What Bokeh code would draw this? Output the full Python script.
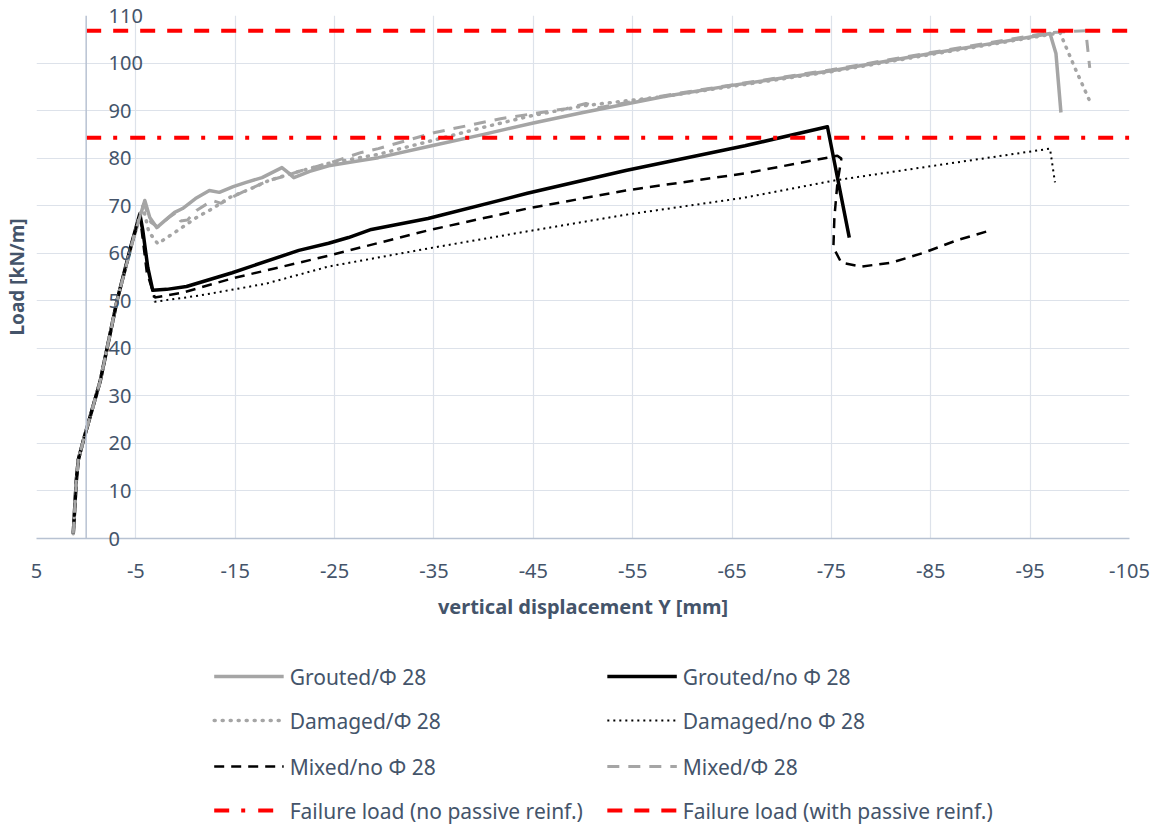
from bokeh.plotting import figure
from bokeh.layouts import column
from bokeh.models import Range1d, FixedTicker, Span, LinearAxis
from bokeh.core.properties import value
from bokeh.embed import file_html
from bokeh.resources import INLINE

# ---------------- data ----------------
x_ticks = [5, -5, -15, -25, -35, -45, -55, -65, -75, -85, -95, -105]
x_tick_labels = ["5", "-5", "-15", "-25", "-35", "-45", "-55", "-65", "-75", "-85", "-95", "-105"]
y_ticks = [0, 10, 20, 30, 40, 50, 60, 70, 80, 90, 100, 110]
y_tick_labels = ["0", "10", "20", "30", "40", "50", "60", "70", "80", "90", "100", "110"]

grouted_phi_x = [1.3, 1.0, 0.8, 0.3, -1.4, -3.1, -4.6, -5.9, -6.4, -7.1, -8.0, -8.9, -9.7, -11.0, -12.4, -13.4,
                 -14.8, -16.1, -17.7, -19.7, -20.3, -20.9, -22.5, -24.4, -27.0, -29.4, -35.0, -40.0, -45.0,
                 -50.0, -58.3, -65.0, -75.0, -85.0, -92.0, -97.0, -97.6, -98.1]
grouted_phi_y = [1.0, 12.0, 16.5, 20.5, 33.0, 50.0, 62.0, 71.1, 67.5, 65.4, 67.0, 68.6, 69.4, 71.5, 73.2, 72.8,
                 74.0, 74.9, 75.9, 78.0, 77.0, 75.9, 77.2, 78.4, 79.3, 80.1, 82.7, 85.0, 87.4,
                 89.6, 93.0, 95.3, 98.4, 102.0, 104.4, 106.2, 102.0, 89.6]

grouted_nophi_x = [1.3, 1.0, 0.8, 0.3, -1.4, -3.1, -4.5, -5.4, -5.7, -6.2, -6.7, -8.1, -10.1, -14.7, -21.4, -24.4,
                   -26.4, -28.7, -34.4, -44.4, -54.3, -66.3, -74.6, -76.8]
grouted_nophi_y = [1.0, 12.0, 16.5, 20.5, 33.0, 50.0, 61.5, 68.3, 64.8, 57.0, 52.2, 52.4, 53.0, 55.9, 60.6, 62.1,
                   63.3, 65.0, 67.3, 72.6, 77.4, 82.6, 86.6, 63.3]

damaged_phi_x = [1.3, 1.0, 0.8, 0.3, -1.4, -3.1, -4.6, -5.7, -6.3, -7.2, -9.0, -11.1, -12.8, -14.4, -16.5, -18.4,
                 -20.7, -24.4, -29.4, -35.0, -40.0, -45.0, -50.0, -58.3, -65.0, -75.0, -85.0, -97.0, -98.0,
                 -99.5, -101.0]
damaged_phi_y = [1.0, 12.0, 16.5, 20.5, 33.0, 50.0, 62.0, 70.0, 64.5, 62.0, 64.5, 67.5, 69.5, 71.7, 73.5, 75.3,
                 76.8, 78.9, 80.8, 83.8, 86.5, 89.0, 91.0, 93.0, 95.1, 98.2, 101.8, 106.0, 106.4,
                 99.0, 92.0]

damaged_nophi_x = [1.3, 1.0, 0.8, 0.3, -1.4, -3.1, -4.5, -5.4, -6.2, -6.9, -11.4, -18.1, -24.4, -34.4, -44.4,
                   -54.3, -66.3, -75.3, -85.3, -97.0, -97.5]
damaged_nophi_y = [1.0, 12.0, 16.5, 20.5, 33.0, 50.0, 61.5, 68.0, 57.0, 49.8, 51.1, 53.6, 57.2, 61.0, 64.6,
                   68.1, 71.7, 75.3, 78.4, 82.0, 74.9]

mixed_nophi_x = [1.3, 1.0, 0.8, 0.3, -1.4, -3.1, -4.5, -5.4, -6.1, -6.9, -9.7, -14.7, -21.4, -24.4, -34.4, -44.4,
                 -54.3, -66.3, -75.6, -76.0, -75.6, -75.3, -75.2, -76.0, -78.0, -81.0, -84.3, -87.6, -91.0]
mixed_nophi_y = [1.0, 12.0, 16.5, 20.5, 33.0, 50.0, 61.5, 68.0, 56.0, 50.7, 51.7, 54.7, 58.0, 59.5, 64.8, 69.4,
                 73.2, 76.8, 80.5, 79.9, 74.7, 67.5, 61.2, 58.0, 57.2, 58.0, 60.1, 62.7, 64.8]

mixed_phi_x = [1.3, 1.0, 0.8, 0.3, -1.4, -3.1, -4.6, -5.8, -6.5, -7.2, -8.3, -9.0, -9.5, -10.2, -11.1, -12.7,
               -13.6, -14.4, -16.1, -18.4, -20.1, -21.7, -24.4, -27.7, -29.4, -35.1, -41.7, -48.3, -50.3, -51.6,
               -58.3, -65.0, -75.0, -85.0, -97.0, -100.6, -101.0]
mixed_phi_y = [1.0, 12.0, 16.5, 20.5, 33.0, 50.0, 62.0, 70.5, 66.5, 65.5, 67.5, 68.5, 66.8, 67.0, 69.0, 71.1,
               70.5, 71.5, 73.2, 75.3, 76.3, 77.4, 78.9, 81.2, 82.0, 85.4, 88.3, 90.4, 91.5, 90.6,
               93.2, 95.4, 98.6, 102.2, 106.4, 106.8, 99.0]

failure_x = [0, -105]
failure_no_passive = 84.3
failure_with_passive = 106.8

legend_labels = ["Grouted/Φ 28", "Grouted/no Φ 28",
                 "Damaged/Φ 28", "Damaged/no Φ 28",
                 "Mixed/no Φ 28", "Mixed/Φ 28",
                 "Failure load (no passive reinf.)", "Failure load (with passive reinf.)"]

TEXT = "#44546a"
GRAY = "#a5a5a5"
RED = "#ff0000"
FONT = "Noto Sans"
W = 1150
FRAME_W = 1101
LEFT = 28
RIGHT = W - LEFT - FRAME_W

styles = [
    dict(line_color=GRAY, line_width=3.5, line_join="round"),
    dict(line_color="black", line_width=3.5, line_join="round"),
    dict(line_color=GRAY, line_width=3.5, line_dash="1 7", line_cap="round"),
    dict(line_color="black", line_width=2, line_dash="2 4"),
    dict(line_color="black", line_width=2.5, line_dash="10 7"),
    dict(line_color=GRAY, line_width=3, line_dash="12 9"),
    dict(line_color=RED, line_width=4, line_dash="15 12 4 13"),
    dict(line_color=RED, line_width=4, line_dash="15 12"),
]

# ---------------- main chart ----------------
p = figure(width=W, height=628,
           x_range=Range1d(5, -105), y_range=Range1d(0, 110),
           output_backend="svg", toolbar_location=None,
           min_border_left=LEFT, min_border_top=15, min_border_right=RIGHT, min_border_bottom=90)
p.outline_line_color = None

p.xaxis.ticker = FixedTicker(ticks=x_ticks)
p.xaxis.major_label_overrides = dict(zip(x_ticks, x_tick_labels))
p.xaxis.major_tick_line_color = None
p.xaxis.minor_tick_line_color = None
p.xaxis.axis_line_color = "#b8c2d2"
p.xaxis.axis_line_width = 1.5
p.xaxis.major_label_text_font = FONT
p.xaxis.major_label_text_font_size = "20px"
p.xaxis.major_label_text_color = TEXT
p.xaxis.major_label_standoff = 19
p.xaxis.axis_label = "vertical displacement Y [mm]"
p.xaxis.axis_label_text_font = FONT
p.xaxis.axis_label_text_font_style = "bold"
p.xaxis.axis_label_text_font_size = "20px"
p.xaxis.axis_label_text_color = TEXT
p.xaxis.axis_label_standoff = 12

p.yaxis.ticker = FixedTicker(ticks=y_ticks)
p.yaxis.major_label_overrides = {v: "" for v in y_ticks}
p.yaxis.major_tick_line_color = None
p.yaxis.minor_tick_line_color = None
p.yaxis.axis_line_color = None
p.yaxis.major_label_standoff = 0
p.yaxis.axis_label = "Load [kN/m]"
p.yaxis.axis_label_text_font = FONT
p.yaxis.axis_label_text_font_style = "bold"
p.yaxis.axis_label_text_font_size = "19px"
p.yaxis.axis_label_text_color = TEXT
p.yaxis.axis_label_standoff = 1

# tick labels sitting next to the vertical line at x = 0 (axis on the right, labels pulled inside)
x0_px = LEFT + FRAME_W * (5 - 0) / 110.0
lab_axis = LinearAxis(ticker=FixedTicker(ticks=y_ticks),
                      major_label_overrides=dict(zip(y_ticks, y_tick_labels)),
                      axis_line_color=None, major_tick_line_color=None, minor_tick_line_color=None,
                      major_label_standoff=int(round(x0_px + 24 - (LEFT + FRAME_W))),
                      major_label_text_font=FONT, major_label_text_font_size="20px",
                      major_label_text_color=TEXT)
p.add_layout(lab_axis, "right")

p.xgrid.grid_line_color = "#dde2ea"
p.ygrid.grid_line_color = "#dde2ea"
p.xgrid.grid_line_width = 1.2
p.ygrid.grid_line_width = 1.2

p.add_layout(Span(location=0, dimension="height", line_color="#b8c2d2", line_width=1.5))

series = [(grouted_phi_x, grouted_phi_y), (grouted_nophi_x, grouted_nophi_y),
          (damaged_phi_x, damaged_phi_y), (damaged_nophi_x, damaged_nophi_y),
          (mixed_nophi_x, mixed_nophi_y), (mixed_phi_x, mixed_phi_y),
          (failure_x, [failure_no_passive] * 2), (failure_x, [failure_with_passive] * 2)]
for (sx, sy), st in zip(series, styles):
    p.line(sx, sy, **st)

# ---------------- legend (separate strip; its frame is aligned with the chart's frame) ----------------
LH = 197
lg = figure(width=W, height=LH, x_range=Range1d(LEFT, LEFT + FRAME_W), y_range=Range1d(LH, 0),
            x_axis_type=None, y_axis_type=None,
            output_backend="svg", toolbar_location=None,
            min_border_left=LEFT, min_border_right=RIGHT, min_border_top=0, min_border_bottom=0)
lg.grid.visible = False
lg.outline_line_color = None

col_x = [207, 603]
row_y = [48, 92, 138, 182]
glyph_w = 70
for i, (lab, st) in enumerate(zip(legend_labels, styles)):
    cx = col_x[i % 2]
    ry = row_y[i // 2]
    lg.line([cx, cx + glyph_w], [ry, ry], **st)
    lg.text(x=[cx + glyph_w + 6], y=[ry], text=[lab], text_align="left", text_baseline="middle",
            text_font=value(FONT), text_font_size="21px", text_color=TEXT)

open("out.html", "w").write(file_html(column(p, lg, spacing=0), INLINE))
